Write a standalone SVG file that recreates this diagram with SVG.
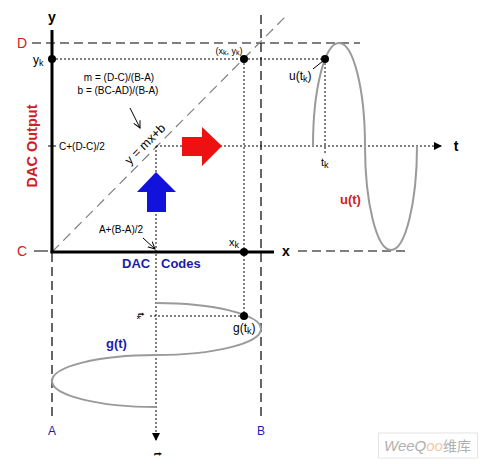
<svg xmlns="http://www.w3.org/2000/svg" width="483" height="464" viewBox="0 0 483 464">
<defs>
<style>
text{font-family:"Liberation Sans",Arial,sans-serif;}
.dash{stroke:#000;stroke-width:1.2;stroke-dasharray:9 5;fill:none}
.dot{stroke:#000;stroke-width:1;stroke-dasharray:2 2;fill:none}
.axis{stroke:#000;stroke-width:3;fill:none}
.curve{stroke:#9a9a9a;stroke-width:2;fill:none}
.pt{fill:#000}
.red{fill:#cc2222}
.blue{fill:#1c1ca8}
.lbl{font-size:10px;fill:#000}
.big{font-size:14px;font-weight:bold;fill:#000}
</style>
<marker id="tri" viewBox="0 0 8 8" refX="7" refY="4" markerWidth="8" markerHeight="8" markerUnits="userSpaceOnUse" orient="auto">
<path d="M0,0 L8,4 L0,8 Z" fill="#000"/>
</marker>
<marker id="vee" viewBox="0 0 8 8" refX="7" refY="4" markerWidth="8" markerHeight="8" markerUnits="userSpaceOnUse" orient="auto">
<path d="M0,0.5 L7,4 L0,7.5" fill="none" stroke="#000" stroke-width="1"/>
</marker>
</defs>
<rect width="483" height="464" fill="#fff"/>

<g id="connectors">
<line class="dash" x1="32" y1="43" x2="360" y2="43"/>
<line class="dash" x1="261" y1="15" x2="261" y2="420"/>
<line class="dash" x1="52" y1="253" x2="52" y2="420"/>
<line class="dash" x1="298" y1="251" x2="405" y2="251"/>
<line x1="52" y1="252" x2="287" y2="15" stroke="#808080" stroke-width="1.2" stroke-dasharray="10 6"/>
<line x1="34" y1="251" x2="48" y2="251" stroke="#000" stroke-width="1"/>
<line x1="48" y1="146" x2="56" y2="146" stroke="#000" stroke-width="1"/>
<line class="dot" x1="52" y1="59" x2="325" y2="59"/>
<line class="dot" x1="244" y1="59" x2="244" y2="316"/>
<line class="dot" x1="325" y1="59" x2="325" y2="154"/>
<line class="dot" x1="150" y1="316" x2="244" y2="316"/>
<line class="dot" x1="156" y1="146" x2="441" y2="146" marker-end="url(#tri)"/>
<line class="dot" x1="156" y1="146" x2="156" y2="440" marker-end="url(#tri)"/>
<line class="axis" x1="52" y1="30" x2="52" y2="253"/>
<line class="axis" x1="50.5" y1="252" x2="274" y2="252"/>
<line x1="130" y1="108" x2="140" y2="128" stroke="#000" stroke-width="1" marker-end="url(#vee)"/>
<line x1="143" y1="238" x2="155" y2="249" stroke="#000" stroke-width="1" marker-end="url(#vee)"/>
<line x1="313" y1="69" x2="323" y2="61" stroke="#000" stroke-width="1"/>
</g>

<g id="u-curve">
<path class="curve" d="M313,146 C313,89.4 324.7,43 339,43 C353.3,43 365,89.4 365,146 C365,202.6 376.7,250 391,250 C405.3,250 417,202.6 417,146"/>
</g>
<g id="g-curve">
<path class="curve" d="M156,303 C213.8,303 261,314.7 261,329 C261,343.3 213.8,355 156,355 C98.2,355 52,366.7 52,381 C52,395.3 98.2,407 156,407"/>
</g>

<g id="arrows">
<path d="M182,137 L202,137 L202,127 L222,146 L202,166 L202,156 L182,156 Z" fill="#ee1111"/>
<path d="M156,172 L176,192 L166,192 L166,212 L147,212 L147,192 L137,192 Z" fill="#1212dd"/>
</g>

<g id="points">
<circle class="pt" cx="52" cy="59" r="4"/>
<circle class="pt" cx="244" cy="59" r="4"/>
<circle class="pt" cx="325" cy="59" r="4"/>
<circle class="pt" cx="244" cy="252" r="4"/>
<circle class="pt" cx="244" cy="316" r="4"/>
</g>

<g id="labels">
<text class="big" x="52" y="22" text-anchor="middle">y</text>
<text class="big" x="286" y="256" text-anchor="middle">x</text>
<text class="big" x="456" y="151" text-anchor="middle">t</text>
<text class="red" x="22" y="48" font-size="14" text-anchor="middle">D</text>
<text class="red" x="22" y="256" font-size="14" text-anchor="middle">C</text>
<text x="33" y="64" font-size="12" fill="#000">y<tspan font-size="9" dy="2">k</tspan></text>
<text x="229" y="54" font-size="9" text-anchor="middle" fill="#000">(x<tspan font-size="7" dy="1">k</tspan><tspan dy="-1">, y</tspan><tspan font-size="7" dy="1">k</tspan><tspan dy="-1">)</tspan></text>
<text class="lbl" x="119" y="81" font-size="9.5" text-anchor="middle">m = (D-C)/(B-A)</text>
<text class="lbl" x="118" y="94" font-size="9.5" text-anchor="middle">b = (BC-AD)/(B-A)</text>
<text class="lbl" x="59" y="150" font-size="9.5">C+(D-C)/2</text>
<text class="lbl" x="121" y="233" font-size="9.5" text-anchor="middle">A+(B-A)/2</text>
<text x="148" y="147" font-size="12.5" text-anchor="middle" fill="#000" transform="rotate(-45 148 147)">y = mx+b</text>
<text x="229" y="246" font-size="11" fill="#000">x<tspan font-size="9" dy="2">k</tspan></text>
<text x="321" y="166" font-size="11" fill="#000">t<tspan font-size="9" dy="2">k</tspan></text>
<text x="289" y="80" font-size="12" fill="#000">u(t<tspan font-size="9" dy="2">k</tspan><tspan dy="-2">)</tspan></text>
<text x="233" y="332" font-size="12" fill="#000">g(t<tspan font-size="9" dy="2">k</tspan><tspan dy="-2">)</tspan></text>
<text class="red" x="340" y="204" font-size="13" font-weight="bold">u(t)</text>
<text class="blue" x="106" y="348" font-size="13" font-weight="bold">g(t)</text>
<text class="red" x="37" y="146" font-size="14.5" font-weight="bold" text-anchor="middle" transform="rotate(-90 37 146)">DAC  Output</text>
<text class="blue" y="268" font-size="13" font-weight="bold"><tspan x="122">DAC</tspan> <tspan x="161">Codes</tspan></text>
<text class="blue" x="52" y="435" font-size="12" text-anchor="middle">A</text>
<text class="blue" x="261" y="435" font-size="12" text-anchor="middle">B</text>
<text x="138" y="316" font-size="9" font-weight="bold" fill="#000" text-anchor="middle" transform="rotate(90 138 316)">t<tspan font-size="6" dy="1">k</tspan></text>
<text x="154" y="454" font-size="10" font-weight="bold" fill="#000" text-anchor="middle" transform="rotate(90 154 454)">t</text>
</g>

<g id="watermark">
<rect x="378.5" y="433" width="99" height="25" fill="#fff" stroke="#e4e4e4" stroke-width="1"/>
<text x="384" y="451" font-size="15" font-style="italic" fill="#b0b0b0" font-family="'Liberation Serif',serif">WeeQ<tspan fill="#f0c8a8">oo</tspan><tspan font-style="normal" font-size="14" font-family="'Noto Sans CJK SC',sans-serif">维库</tspan></text>
</g>
</svg>
